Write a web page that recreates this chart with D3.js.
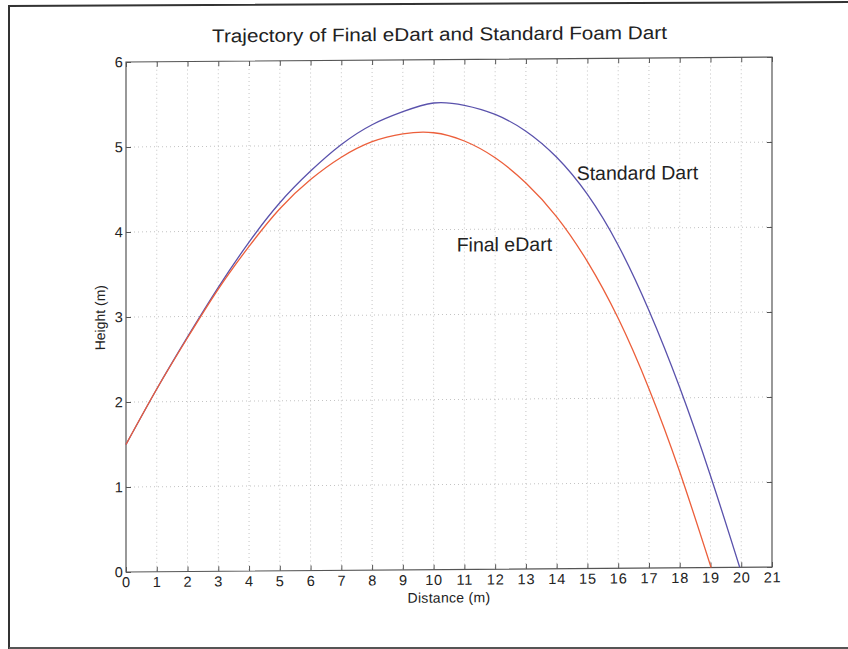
<!DOCTYPE html>
<html><head><meta charset="utf-8">
<script src="https://cdn.jsdelivr.net/npm/d3@7"></script>
<style>body{margin:0;background:#fff}svg{display:block;font-family:"Liberation Sans",Arial,sans-serif}</style>
</head><body><svg id="c" width="848" height="649"></svg>
<script>
const title = "Trajectory of Final eDart and Standard Foam Dart";
const xLabel = "Distance (m)";
const yLabel = "Height (m)";
const xTicks = d3.range(0, 22);
const yTicks = [0, 1, 2, 3, 4, 5, 6];
const standardX = [0, 1, 2, 3, 4, 5, 6, 7, 8, 9, 10, 11, 12, 13, 14, 15, 16, 17, 18, 19, 19.95];
const standardY = [1.5, 2.15, 2.76, 3.34, 3.87, 4.33, 4.7, 5.01, 5.24, 5.39, 5.49, 5.46, 5.35, 5.15, 4.84, 4.4, 3.8, 3.03, 2.12, 1.08, 0];
const edartX = [0, 1, 2, 3, 4, 5, 6, 7, 8, 9, 10, 11, 12, 13, 14, 15, 16, 17, 18, 19.02];
const edartY = [1.5, 2.15, 2.75, 3.32, 3.82, 4.26, 4.6, 4.86, 5.04, 5.13, 5.14, 5.04, 4.84, 4.54, 4.14, 3.61, 2.94, 2.11, 1.13, 0];
const labels = [{text: "Standard Dart", x: 14.65, y: 4.57}, {text: "Final eDart", x: 10.75, y: 3.74}];

const svg = d3.select("#c");
const L = 126, R = 772, T = 62, B = 572;
const x = d3.scaleLinear().domain([0, 21]).range([L, R]);
const y = d3.scaleLinear().domain([0, 6]).range([B, T]);

// outer frame
svg.append("path").attr("d", "M9,649 L9,6 L848,2").attr("fill", "none").attr("stroke", "#333").attr("stroke-width", 2);
svg.append("line").attr("x1", 9).attr("x2", 848).attr("y1", 648).attr("y2", 648).attr("stroke", "#555").attr("stroke-width", 2);

// whole chart slightly skewed like the scanned page
const root = svg.append("g").attr("transform", `translate(${L},0) skewY(-0.44) translate(${-L},0)`);

// grid
root.selectAll(".gx").data(xTicks.slice(1, -1)).join("line")
  .attr("x1", d => x(d)).attr("x2", d => x(d)).attr("y1", T).attr("y2", B)
  .attr("stroke", "#c4c4c4").attr("stroke-width", 1).attr("stroke-dasharray", "1,3");
root.selectAll(".gy").data(yTicks.slice(1, -1)).join("line")
  .attr("x1", L).attr("x2", R).attr("y1", d => y(d)).attr("y2", d => y(d))
  .attr("stroke", "#c4c4c4").attr("stroke-width", 1).attr("stroke-dasharray", "1,3");

// axes
const axStyle = sel => { sel.select(".domain").remove(); sel.attr("font-size", 14.5).attr("font-family", "Liberation Sans, Arial, sans-serif");
  sel.selectAll("line").attr("stroke", "#555");
  sel.selectAll("text").attr("fill", "#222").style("letter-spacing", "0.8px"); };
root.append("g").attr("transform", `translate(0,${B})`).call(d3.axisBottom(x).tickValues(xTicks).tickSize(-5).tickPadding(5).tickFormat(d3.format("d"))).call(axStyle);
root.append("g").attr("transform", `translate(0,${T})`).call(d3.axisTop(x).tickValues(xTicks).tickSize(-5).tickFormat("")).call(axStyle);
root.append("g").attr("transform", `translate(${L},0)`).call(d3.axisLeft(y).tickValues(yTicks).tickSize(-5).tickPadding(2.5).tickFormat(d3.format("d"))).call(axStyle);
root.append("g").attr("transform", `translate(${R},0)`).call(d3.axisRight(y).tickValues(yTicks).tickSize(-5).tickFormat("")).call(axStyle);
root.append("rect").attr("x", L).attr("y", T).attr("width", R - L).attr("height", B - T).attr("fill", "none").attr("stroke", "#555").attr("stroke-width", 1.2);

// lines
const line = d3.line().x(d => x(d[0])).y(d => y(d[1])).curve(d3.curveNatural);
root.append("path").datum(standardX.map((v, i) => [v, standardY[i]])).attr("d", line)
  .attr("fill", "none").attr("stroke", "#5a52ac").attr("stroke-width", 1.3);
root.append("path").datum(edartX.map((v, i) => [v, edartY[i]])).attr("d", line)
  .attr("fill", "none").attr("stroke", "#ec5f3b").attr("stroke-width", 1.3);

// text
root.append("text").attr("x", 212).attr("y", 43).attr("textLength", 455).attr("lengthAdjust", "spacingAndGlyphs")
  .style("font-size", "18.5px").attr("fill", "#222").text(title);
root.append("text").attr("x", 449).attr("y", 605).attr("text-anchor", "middle").style("font-size", "14px").style("letter-spacing", "0.3px").attr("fill", "#222").text(xLabel);
root.append("text").attr("transform", "translate(105,317.5) rotate(-90)").attr("text-anchor", "middle").style("font-size", "14px").attr("fill", "#222").text(yLabel);
root.selectAll(".lbl").data(labels).join("text").attr("x", d => x(d.x)).attr("y", d => y(d.y))
  .style("font-size", "19.5px").attr("fill", "#222").text(d => d.text);
</script></body></html>
